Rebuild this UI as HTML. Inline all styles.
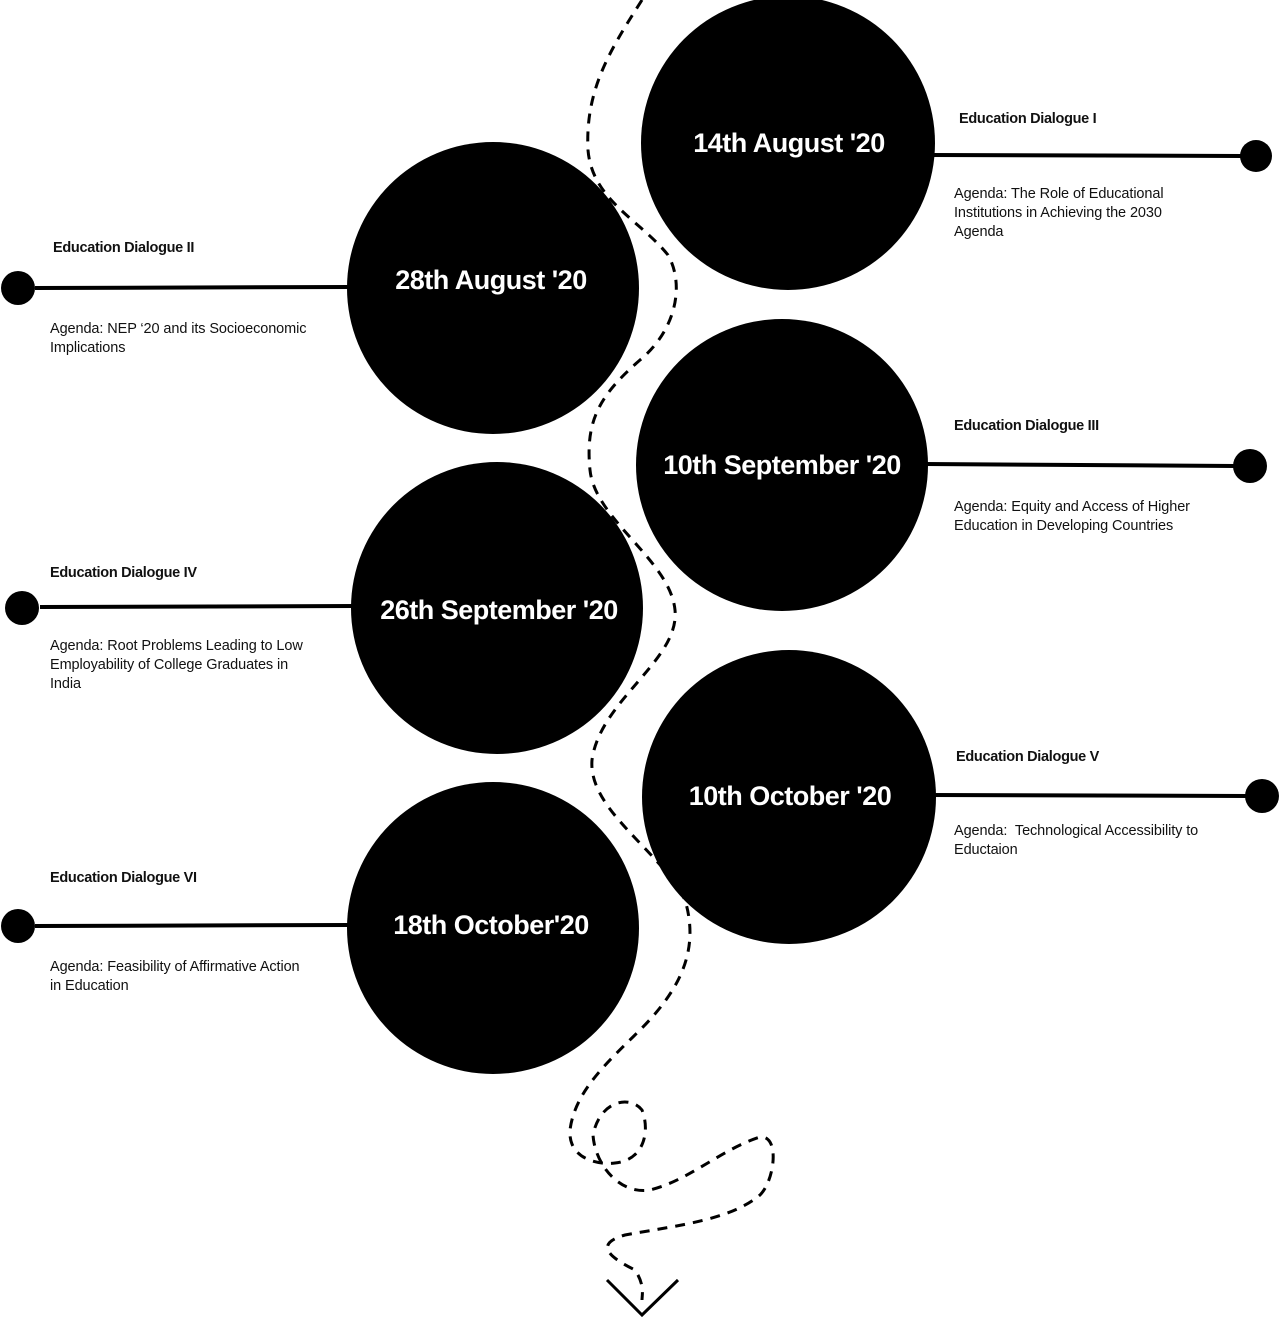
<!DOCTYPE html>
<html><head><style>
body{margin:0;background:#fff;width:1280px;height:1319px;overflow:hidden;position:relative;font-family:"Liberation Sans",sans-serif}
.t{position:absolute;font-size:14.5px;line-height:19px;color:#111;letter-spacing:-0.1px}
.h{position:absolute;font-size:14.5px;font-weight:bold;color:#111;letter-spacing:-0.3px}
</style></head><body>
<svg width="1280" height="1319" style="position:absolute;left:0;top:0">
<g fill="none" stroke="#000" stroke-width="3" stroke-dasharray="10 8">
<path d="M642 0 C610 50 585 90 588 150 C592 200 640 220 668 255 C685 285 676 330 640 360 C600 395 585 420 590 470 C595 520 670 560 675 610 C680 660 600 700 592 760 C588 810 660 850 685 900 C700 950 680 990 640 1030 C610 1060 575 1090 570 1130 C568 1160 600 1165 615 1163 C645 1160 650 1130 642 1110 C630 1095 600 1100 593 1135 C595 1165 620 1195 650 1190 C690 1180 720 1150 760 1137 C780 1135 775 1180 760 1195 C730 1220 680 1225 625 1235 C590 1245 615 1260 635 1270 C645 1285 642 1295 642 1300"/>
</g>
<path d="M607 1280 L642 1315 L678 1280" fill="none" stroke="#000" stroke-width="3"/>
<g fill="#000">
<circle cx="788" cy="143" r="147"/>
<circle cx="493" cy="288" r="146"/>
<circle cx="782" cy="465" r="146"/>
<circle cx="497" cy="608" r="146"/>
<circle cx="789" cy="797" r="147"/>
<circle cx="493" cy="928" r="146"/>
<circle cx="1256" cy="156" r="16"/>
<circle cx="18" cy="288" r="17"/>
<circle cx="1250" cy="466" r="17"/>
<circle cx="22" cy="608" r="17"/>
<circle cx="1262" cy="796" r="17"/>
<circle cx="18" cy="926" r="17"/>
</g>
<g stroke="#000" stroke-width="4">
<line x1="930" y1="155" x2="1242" y2="156"/>
<line x1="35" y1="288" x2="350" y2="287"/>
<line x1="925" y1="464" x2="1235" y2="466"/>
<line x1="40" y1="607" x2="355" y2="606"/>
<line x1="930" y1="795" x2="1248" y2="796"/>
<line x1="35" y1="926" x2="350" y2="925"/>
</g>
<g fill="#fff" font-family="Liberation Sans, sans-serif" font-weight="bold" font-size="27" text-anchor="middle" letter-spacing="-0.5">
<text x="789" y="152">14th August '20</text>
<text x="491" y="289">28th August '20</text>
<text x="782" y="474">10th September '20</text>
<text x="499" y="619">26th September '20</text>
<text x="790" y="805">10th October '20</text>
<text x="491" y="934">18th  October'20</text>
</g>
</svg>
<div class="h" style="left:959px;top:111px">Education Dialogue I</div>
<div class="t" style="left:954px;top:185px">Agenda: The Role of Educational<br>Institutions in Achieving the 2030<br>Agenda</div>
<div class="h" style="left:53px;top:240px">Education Dialogue II</div>
<div class="t" style="left:50px;top:320px">Agenda: NEP ‘20 and its Socioeconomic<br>Implications</div>
<div class="h" style="left:954px;top:418px">Education Dialogue III</div>
<div class="t" style="left:954px;top:498px">Agenda: Equity and Access of Higher<br>Education in Developing Countries</div>
<div class="h" style="left:50px;top:565px">Education Dialogue IV</div>
<div class="t" style="left:50px;top:637px">Agenda: Root Problems Leading to Low<br>Employability of College Graduates in<br>India</div>
<div class="h" style="left:956px;top:749px">Education Dialogue V</div>
<div class="t" style="left:954px;top:822px">Agenda:&nbsp; Technological Accessibility to<br>Eductaion</div>
<div class="h" style="left:50px;top:870px">Education Dialogue VI</div>
<div class="t" style="left:50px;top:958px">Agenda: Feasibility of Affirmative Action<br>in Education</div>
</body></html>
